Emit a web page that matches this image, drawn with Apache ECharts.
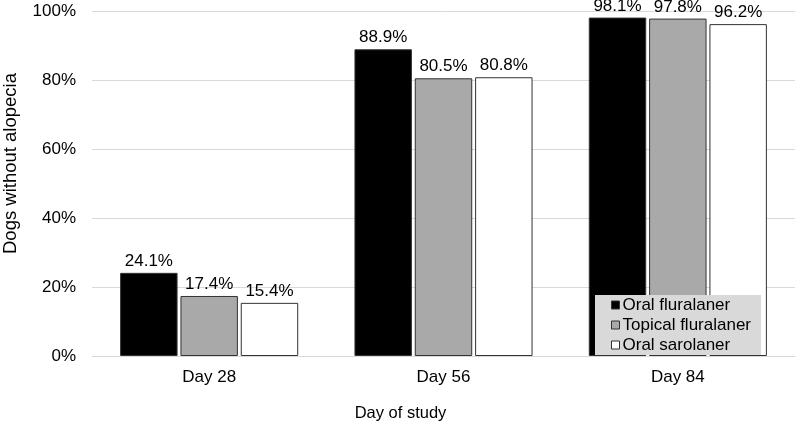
<!DOCTYPE html>
<html><head><meta charset="utf-8">
<script src="https://cdn.jsdelivr.net/npm/echarts@6/dist/echarts.min.js"></script>
<style>html,body{margin:0;padding:0;background:#fff}#c{width:797px;height:423px}</style>
</head><body><div id="c"></div>
<script>
const categories = ['Day 28', 'Day 56', 'Day 84'];
const oralFluralaner = [24.1, 88.9, 98.1];
const topicalFluralaner = [17.4, 80.5, 97.8];
const oralSarolaner = [15.4, 80.8, 96.2];
const seriesNames = ['Oral fluralaner', 'Topical fluralaner', 'Oral sarolaner'];
const colors = ['#000000', '#a9a9a9', '#ffffff'];

const font = 'Liberation Sans, Arial, sans-serif';
const chart = echarts.init(document.getElementById('c'));
const mk = (name, data, color) => ({
  name, type: 'bar', data,
  barGap: '5%', barCategoryGap: '24%',
  itemStyle: { color, borderColor: '#333333', borderWidth: 1 },
  label: { show: true, position: 'top', distance: 3, formatter: p => p.value.toFixed(1) + '%',
    color: '#000', fontSize: 17, fontFamily: font }
});
chart.setOption({
  animation: false,
  grid: { left: 92, right: 2, top: 11, bottom: 67, containLabel: false, outerBoundsMode: 'none' },
  legend: {
    orient: 'vertical', left: 595, top: 295, width: 168,
    backgroundColor: '#d9d9d9', padding: [0, 10, 0, 16], itemGap: 0,
    itemWidth: 8, itemHeight: 8, icon: 'rect',
    textStyle: { fontSize: 17, lineHeight: 20, fontFamily: font, color: '#000', padding: [0, 0, 0, -2] },
    data: seriesNames.map(n => ({ name: n, itemStyle: { borderColor: '#333333', borderWidth: 1 } }))
  },
  xAxis: {
    type: 'category', data: categories,
    name: 'Day of study', nameLocation: 'middle', nameGap: 49,
    nameTextStyle: { fontSize: 16.5, fontFamily: font, color: '#000', padding: [0, 86, 0, 0] },
    axisLine: { lineStyle: { color: '#d9d9d9' } }, axisTick: { show: false },
    axisLabel: { fontSize: 17, fontFamily: font, color: '#000', margin: 13 }
  },
  yAxis: {
    type: 'value', min: 0, max: 100, interval: 20,
    name: 'Dogs without alopecia', nameLocation: 'middle', nameGap: 72,
    nameTextStyle: { fontSize: 18.5, fontFamily: font, color: '#000', padding: [0, 0, 0, 40] },
    axisLabel: { formatter: '{value}%', fontSize: 17, fontFamily: font, color: '#000', margin: 16 },
    splitLine: { lineStyle: { color: '#d9d9d9', width: 1 } },
    axisLine: { show: false }, axisTick: { show: false }
  },
  series: [
    mk(seriesNames[0], oralFluralaner, colors[0]),
    mk(seriesNames[1], topicalFluralaner, colors[1]),
    mk(seriesNames[2], oralSarolaner, colors[2])
  ]
});
</script></body></html>
